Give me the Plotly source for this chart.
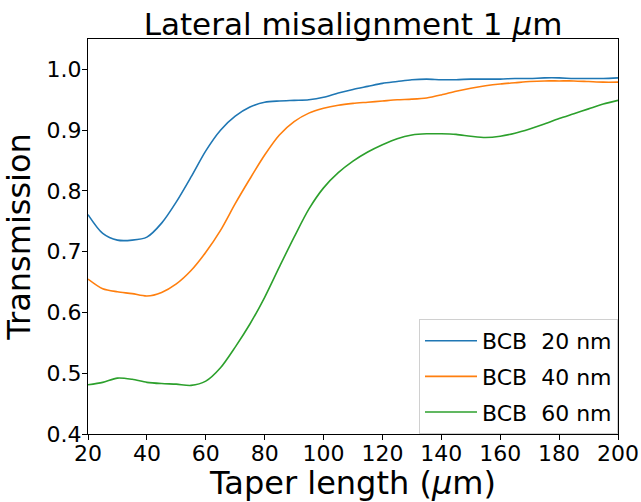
import plotly.graph_objects as go

taper_length = [20, 25, 30, 35, 40, 45, 50, 55, 60, 65, 70, 75, 80, 85, 90, 95, 100,
                105, 110, 115, 120, 125, 130, 135, 140, 145, 150, 155, 160, 165, 170,
                175, 180, 185, 190, 195, 200]

bcb_20 = [0.761, 0.730, 0.719, 0.719, 0.724, 0.747, 0.782, 0.823, 0.866, 0.900, 0.923,
          0.938, 0.946, 0.948, 0.949, 0.950, 0.954, 0.961, 0.967, 0.972, 0.977, 0.980,
          0.983, 0.984, 0.983, 0.983, 0.984, 0.984, 0.984, 0.985, 0.985, 0.986, 0.986,
          0.985, 0.985, 0.985, 0.986]

bcb_40 = [0.655, 0.639, 0.634, 0.631, 0.627, 0.633, 0.647, 0.669, 0.699, 0.735, 0.779,
          0.820, 0.859, 0.892, 0.914, 0.928, 0.936, 0.941, 0.944, 0.946, 0.948, 0.950,
          0.951, 0.953, 0.958, 0.964, 0.969, 0.973, 0.976, 0.978, 0.980, 0.981, 0.981,
          0.981, 0.980, 0.979, 0.979]

bcb_60 = [0.481, 0.485, 0.492, 0.490, 0.485, 0.483, 0.482, 0.480, 0.487, 0.509, 0.543,
          0.581, 0.625, 0.675, 0.724, 0.770, 0.805, 0.830, 0.849, 0.864, 0.876, 0.886,
          0.892, 0.894, 0.894, 0.893, 0.890, 0.888, 0.890, 0.895, 0.902, 0.910, 0.919,
          0.927, 0.935, 0.943, 0.949]

series_names = ["BCB\u00a0\u00a020 nm", "BCB\u00a0\u00a040 nm", "BCB\u00a0\u00a060 nm"]
series_values = [bcb_20, bcb_40, bcb_60]
colors = ["#1f77b4", "#ff7f0e", "#2ca02c"]

x_ticks = [20, 40, 60, 80, 100, 120, 140, 160, 180, 200]
y_ticks = [0.4, 0.5, 0.6, 0.7, 0.8, 0.9, 1.0]

fig = go.Figure()
for i, (name, vals, c) in enumerate(zip(series_names, series_values, colors)):
    fig.add_trace(go.Scatter(x=taper_length, y=vals, mode="lines", name=name,
                             line=dict(color=c, width=1.6, shape="spline", smoothing=0.8),
                             legendgroup=f"g{i}"))

font = "DejaVu Sans, sans-serif"
fig.update_layout(
    width=641, height=502,
    margin=dict(l=88, r=23, t=39, b=68),
    paper_bgcolor="white", plot_bgcolor="white",
    font=dict(family=font, size=22, color="black"),
    title=dict(text="Lateral misalignment 1 <i>μ</i>m", x=0.5, xanchor="center",
               xref="paper", y=1 - 24 / 502, yanchor="middle",
               font=dict(size=31, family=font, color="black")),
    showlegend=True,
    legend=dict(x=1, xanchor="right", y=0, yanchor="bottom",
                bgcolor="white", bordercolor="#d0d0d0", borderwidth=1,
                font=dict(size=22, family=font), tracegroupgap=4, itemwidth=52),
    xaxis=dict(range=[20, 200], tickvals=x_ticks, ticktext=[str(v) for v in x_ticks],
               showgrid=False, zeroline=False, showline=True, linecolor="black",
               linewidth=1, mirror=True, ticks="outside", ticklen=5, tickcolor="black",
               tickfont=dict(size=22), automargin=False, ticklabelstandoff=-5,
               title=dict(text="Taper length (<i>μ</i>m)", font=dict(size=32), standoff=2)),
    yaxis=dict(range=[0.4, 1.05], tickvals=y_ticks, ticktext=[f"{v:.1f}" for v in y_ticks],
               showgrid=False, zeroline=False, showline=True, linecolor="black",
               linewidth=1, mirror=True, ticks="outside", ticklen=5, tickcolor="black",
               tickfont=dict(size=22), automargin=False, ticklabelstandoff=-4,
               title=dict(text="Transmission", font=dict(size=32), standoff=6)),
)

fig.write_html("out.html", config={"displayModeBar": False},
               post_script="document.body.style.margin='0px';document.body.style.overflow='hidden';")
